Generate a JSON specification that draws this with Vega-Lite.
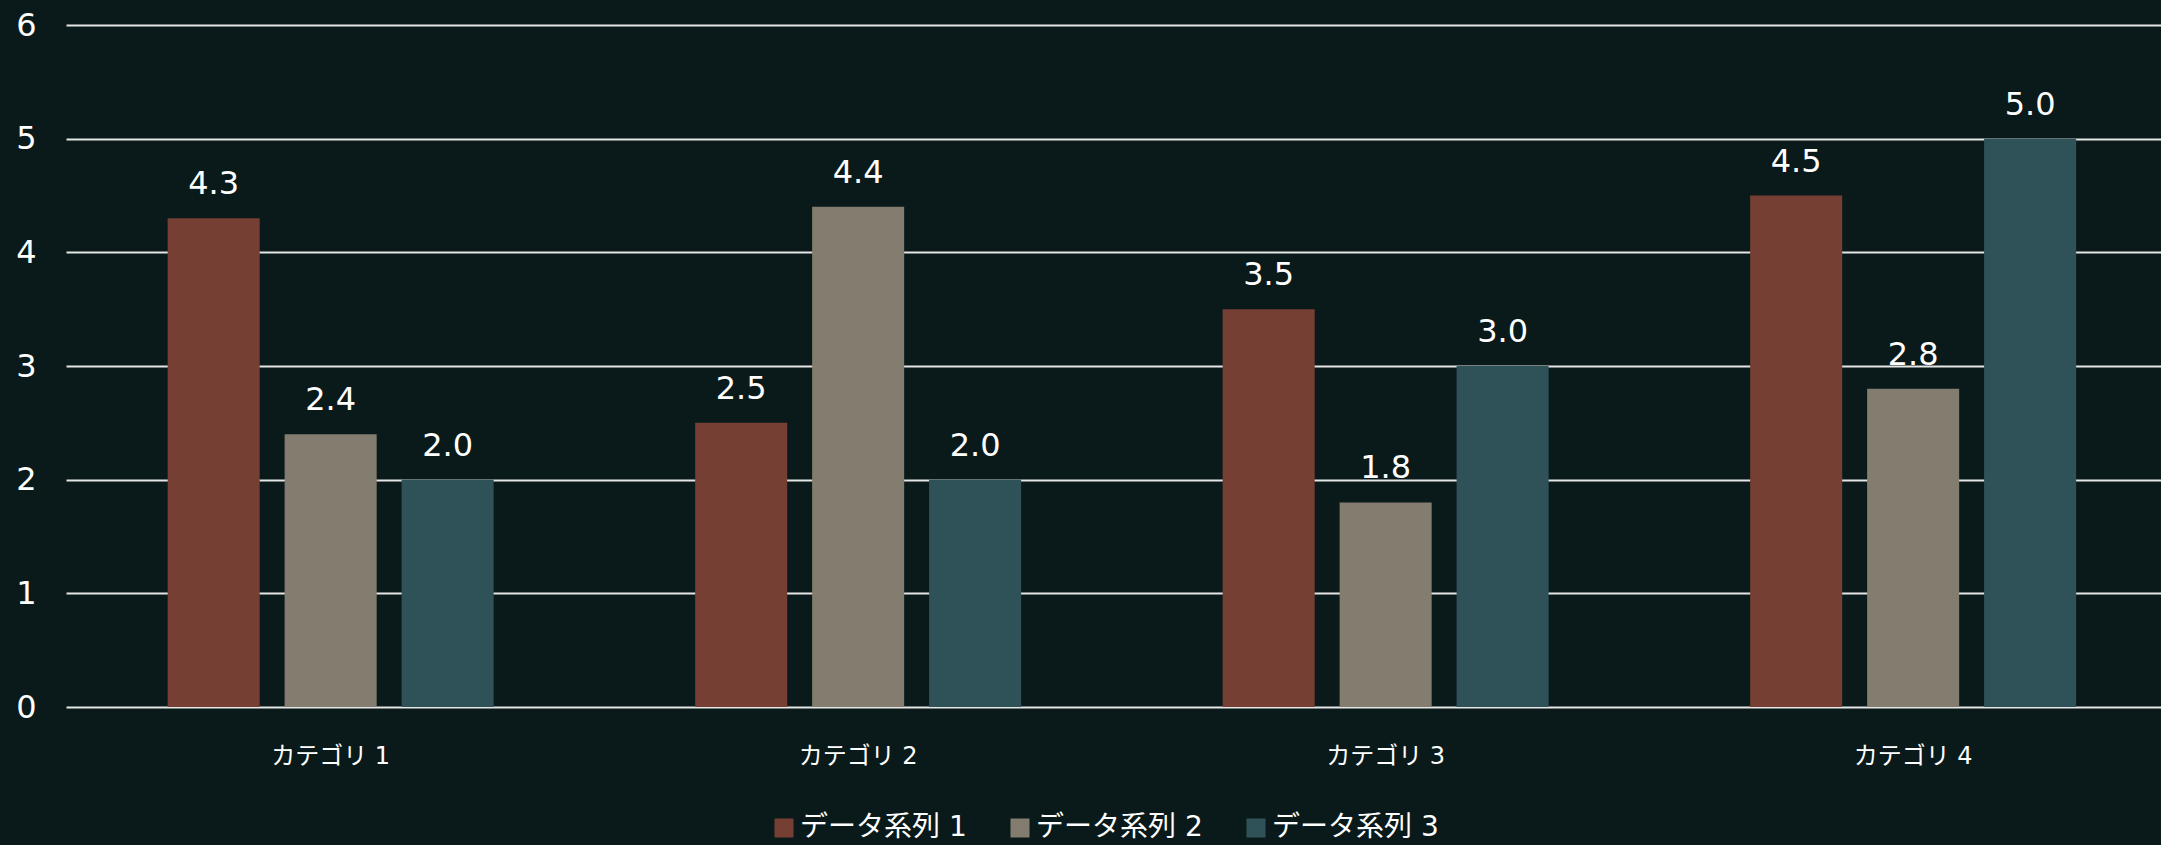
{
  "$schema": "https://vega.github.io/schema/vega-lite/v6.json",
  "width": 2095,
  "height": 682,
  "autosize": {"type": "none"},
  "padding": {"left": 66, "top": 25, "right": 0, "bottom": 138},
  "background": "#0a1a1a",
  "config": {
    "view": {"stroke": null},
    "font": "DejaVu Sans, Noto Sans CJK JP"
  },
  "data": {
    "values": [
      {"category": "カテゴリ 1", "series": "データ系列 1", "value": 4.3},
      {"category": "カテゴリ 1", "series": "データ系列 2", "value": 2.4},
      {"category": "カテゴリ 1", "series": "データ系列 3", "value": 2.0},
      {"category": "カテゴリ 2", "series": "データ系列 1", "value": 2.5},
      {"category": "カテゴリ 2", "series": "データ系列 2", "value": 4.4},
      {"category": "カテゴリ 2", "series": "データ系列 3", "value": 2.0},
      {"category": "カテゴリ 3", "series": "データ系列 1", "value": 3.5},
      {"category": "カテゴリ 3", "series": "データ系列 2", "value": 1.8},
      {"category": "カテゴリ 3", "series": "データ系列 3", "value": 3.0},
      {"category": "カテゴリ 4", "series": "データ系列 1", "value": 4.5},
      {"category": "カテゴリ 4", "series": "データ系列 2", "value": 2.8},
      {"category": "カテゴリ 4", "series": "データ系列 3", "value": 5.0}
    ]
  },
  "encoding": {
    "x": {
      "field": "category",
      "type": "nominal",
      "sort": null,
      "scale": {"paddingInner": 0.382, "paddingOuter": 0.1768, "align": 0.545},
      "axis": {
        "title": null,
        "domain": false,
        "ticks": false,
        "tickSize": 0,
        "grid": false,
        "labelAngle": 0,
        "labelFontSize": 24,
        "labelColor": "#ffffff",
        "labelPadding": 37,
        "labelFont": "DejaVu Sans, Noto Sans CJK JP"
      }
    },
    "xOffset": {
      "field": "series",
      "type": "nominal",
      "sort": null,
      "scale": {"paddingInner": 0.213, "paddingOuter": 0}
    },
    "y": {
      "field": "value",
      "type": "quantitative",
      "scale": {"domain": [0, 6], "nice": false},
      "axis": {
        "title": null,
        "values": [0, 1, 2, 3, 4, 5, 6],
        "domain": false,
        "ticks": false,
        "tickSize": 0,
        "labelFontSize": 32,
        "labelColor": "#ffffff",
        "labelPadding": 30,
        "gridColor": "#e6e6e6",
        "gridWidth": 2,
        "gridOpacity": 1
      }
    }
  },
  "layer": [
    {
      "mark": {"type": "bar"},
      "encoding": {
        "color": {
          "field": "series",
          "type": "nominal",
          "sort": null,
          "scale": {"range": ["#763f33", "#837d70", "#2e5258"]},
          "legend": {
            "title": null,
            "orient": "none",
            "legendX": 704,
            "legendY": 789,
            "direction": "horizontal",
            "symbolType": "square",
            "symbolSize": 361,
            "symbolStrokeWidth": 0,
            "labelFontSize": 28,
            "labelLimit": 400,
            "labelColor": "#ffffff",
            "labelOffset": 2,
            "columnPadding": 39,
            "padding": 0,
            "labelFont": "DejaVu Sans, Noto Sans CJK JP"
          }
        }
      }
    },
    {
      "mark": {"type": "text", "baseline": "alphabetic", "dy": -24, "fontSize": 32, "color": "#ffffff"},
      "encoding": {
        "text": {"field": "value", "type": "quantitative", "format": ".1f"}
      }
    }
  ]
}
